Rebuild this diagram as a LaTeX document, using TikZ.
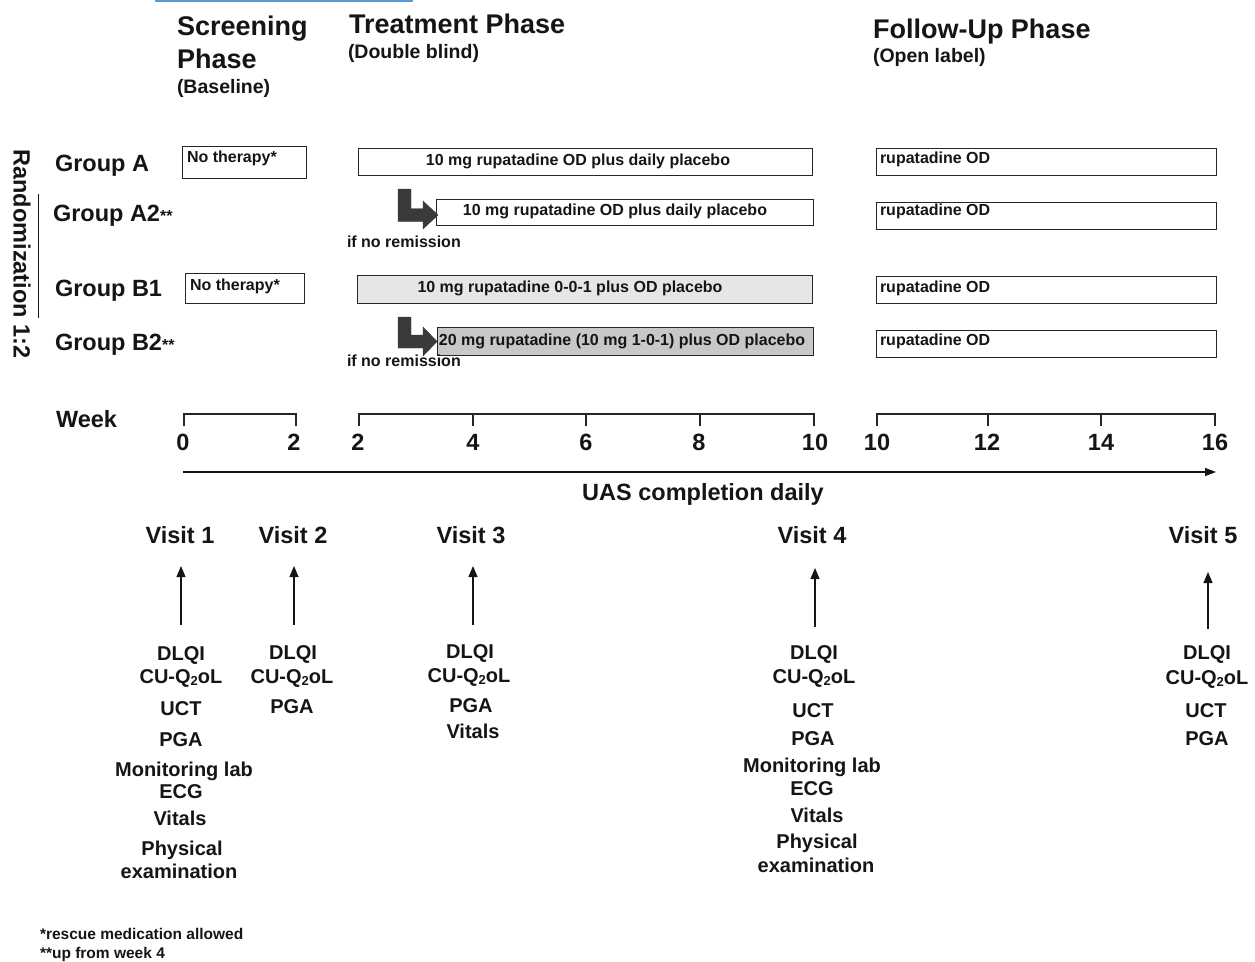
\documentclass[tikz,border=0pt]{standalone}
\usepackage{fontspec}
\setmainfont{Liberation Sans}
\usetikzlibrary{arrows.meta}
\definecolor{ink}{HTML}{151515}
\definecolor{boxline}{HTML}{262626}
\definecolor{lightfill}{HTML}{E6E6E6}
\definecolor{darkfill}{HTML}{C8C8C8}
\definecolor{bentc}{HTML}{3A3A3A}
\definecolor{topblue}{HTML}{5B9BD5}
\newcommand{\fHead}{\fontsize{27}{30}\selectfont\bfseries}
\newcommand{\fSub}{\fontsize{19.5}{22}\selectfont\bfseries}
\newcommand{\fGrp}{\fontsize{23.5}{26}\selectfont\bfseries}
\newcommand{\fBox}{\fontsize{16}{18}\selectfont\bfseries}
\newcommand{\fItem}{\fontsize{20}{22}\selectfont\bfseries}
\newcommand{\fFoot}{\fontsize{15.5}{17}\selectfont\bfseries}
\newcommand{\cuq}{CU-Q\raisebox{-0.25ex}{\fontsize{13}{13}\selectfont 2}oL}
\newcommand{\stars}{{\fontsize{16}{16}\selectfont **}}
\begin{document}
\begin{tikzpicture}[x=1pt,y=-1pt,
  txt/.style={inner sep=0pt, outer sep=0pt, text=ink},
  lefttxt/.style={txt, anchor=base west},
  ctxt/.style={txt, anchor=base},
  phbox/.style={draw=boxline, line width=1.3pt, inner sep=0pt, anchor=north west},
  bent/.style={fill=bentc, draw=bentc, line width=0.4pt},
  axisline/.style={draw=boxline, line width=1.3pt},
  varrow/.style={draw=ink, line width=1.2pt, -{Triangle[length=11pt,width=9pt]}},
  uasarrow/.style={draw=ink, line width=1.3pt, -{Triangle[length=11pt,width=8pt]}}
]
\useasboundingbox (0,0) rectangle (1255,961);
\fill[white] (0,0) rectangle (1255,961);

% top blue rule
\draw[topblue, line width=2.5pt] (155,1) -- (413,1);

% phase headings
\node[lefttxt, font=\fHead] (scrA) at (177,35) {Screening};
\node[lefttxt, font=\fHead] (scrB) at (177,68) {Phase};
\node[lefttxt, font=\fSub] (scrC) at (177,93) {(Baseline)};
\node[lefttxt, font=\fHead] (trtA) at (349,33) {Treatment Phase};
\node[lefttxt, font=\fSub] (trtB) at (348,58) {(Double blind)};
\node[lefttxt, font=\fHead] (fuA) at (873,38) {Follow-Up Phase};
\node[lefttxt, font=\fSub] (fuB) at (873,62) {(Open label)};

% randomization
\node[txt, font=\fGrp, rotate=-90, anchor=center] (rand) at (22,254) {Randomization 1:2};
\coordinate (randT) at (38,194);
\coordinate (randB) at (38,318);
\draw[ink, line width=1pt] (randT) -- (randB);

% group labels
\node[lefttxt, font=\fGrp] (gA) at (55,171.5) {Group A};
\node[lefttxt, font=\fGrp] (gA2) at (53,221.5) {Group A2\stars};
\node[lefttxt, font=\fGrp] (gB1) at (55,296.5) {Group B1};
\node[lefttxt, font=\fGrp] (gB2) at (55,350.5) {Group B2\stars};

% screening boxes
\node[phbox, minimum width=124pt, minimum height=32pt] (noA) at (182,146) {};
\node[lefttxt, font=\fBox] (noAt) at (187,162) {No therapy*};
\node[phbox, minimum width=119pt, minimum height=30pt] (noB) at (185,273) {};
\node[lefttxt, font=\fBox] (noBt) at (190,290) {No therapy*};

% treatment boxes
\node[phbox, minimum width=454pt, minimum height=27pt, fill=white] (trA) at (358,148) {};
\node[txt, font=\fBox, anchor=center] (trAt) at (578,161) {10 mg rupatadine OD plus daily placebo};
\node[phbox, minimum width=377pt, minimum height=26pt, fill=white] (trA2) at (436,199) {};
\node[txt, font=\fBox, anchor=center] (trA2t) at (615,211.5) {10 mg rupatadine OD plus daily placebo};
\node[phbox, minimum width=455pt, minimum height=27.5pt, fill=lightfill] (trB1) at (357,275) {};
\node[txt, font=\fBox, anchor=center] (trB1t) at (570,288.5) {10 mg rupatadine 0-0-1 plus OD placebo};
\node[phbox, minimum width=376pt, minimum height=28pt, fill=darkfill] (trB2) at (437,327) {};
\node[txt, font=\fBox, anchor=center] (trB2t) at (622,341) {20 mg rupatadine (10 mg 1-0-1) plus OD placebo};

% bent arrows
\path[bent] (398,189) -- (411,189) -- (411,208.5) -- (423,208.5) -- (423,201) -- (438,215) -- (423,229) -- (423,221.5) -- (398,221.5) -- cycle;
\path[bent] (398,317) -- (411,317) -- (411,335) -- (423,335) -- (423,327) -- (437,341.5) -- (423,356) -- (423,348) -- (398,348) -- cycle;
\node[lefttxt, font=\fBox] (nrA) at (347,247) {if no remission};
\node[lefttxt, font=\fBox] (nrB) at (347,366) {if no remission};

% follow-up boxes
\node[phbox, minimum width=340pt, minimum height=27pt] (fu1) at (876,148) {};
\node[lefttxt, font=\fBox] (fu1t) at (880,163) {rupatadine OD};
\node[phbox, minimum width=340pt, minimum height=27pt] (fu2) at (876,202) {};
\node[lefttxt, font=\fBox] (fu2t) at (880,215) {rupatadine OD};
\node[phbox, minimum width=340pt, minimum height=27pt] (fu3) at (876,276) {};
\node[lefttxt, font=\fBox] (fu3t) at (880,292) {rupatadine OD};
\node[phbox, minimum width=340pt, minimum height=27pt] (fu4) at (876,330) {};
\node[lefttxt, font=\fBox] (fu4t) at (880,345) {rupatadine OD};

% week axis
\node[lefttxt, font=\fGrp] (week) at (56,427) {Week};
\draw[axisline] (184,426) -- (184,414) -- (296,414) -- (296,426);
\draw[axisline] (359,426) -- (359,414) -- (814,414) -- (814,426);
\draw[axisline] (473,414) -- (473,426) (586,414) -- (586,426) (700,414) -- (700,426);
\draw[axisline] (877,426) -- (877,414) -- (1215,414) -- (1215,426);
\draw[axisline] (988,414) -- (988,426) (1101,414) -- (1101,426);
\foreach \xx/\lab/\nm in {183/0/n0, 294/2/n2a, 358/2/n2b, 473/4/n4, 586/6/n6, 699/8/n8, 815/10/n10a, 877/10/n10b, 987/12/n12, 1101/14/n14, 1215/16/n16}
  \node[ctxt, font=\fGrp] (\nm) at (\xx,450) {\lab};

\coordinate (uasS) at (183,472);
\coordinate (uasE) at (1216,472);
\draw[uasarrow] (uasS) -- (uasE);
\node[ctxt, font=\fGrp] (uas) at (703,500) {UAS completion daily};

% visits
\node[ctxt, font=\fGrp] (v1) at (180,543) {Visit 1};
\node[ctxt, font=\fGrp] (v2) at (293,543) {Visit 2};
\node[ctxt, font=\fGrp] (v3) at (471,543) {Visit 3};
\node[ctxt, font=\fGrp] (v4) at (812,543) {Visit 4};
\node[ctxt, font=\fGrp] (v5) at (1203,543) {Visit 5};

\coordinate (a1b) at (181,625); \coordinate (a1t) at (181,566);
\coordinate (a2b) at (294,625); \coordinate (a2t) at (294,566);
\coordinate (a3b) at (473,625); \coordinate (a3t) at (473,566);
\coordinate (a4b) at (815,627); \coordinate (a4t) at (815,568);
\coordinate (a5b) at (1208,629); \coordinate (a5t) at (1208,572);
\draw[varrow] (a1b) -- (a1t);
\draw[varrow] (a2b) -- (a2t);
\draw[varrow] (a3b) -- (a3t);
\draw[varrow] (a4b) -- (a4t);
\draw[varrow] (a5b) -- (a5t);

% visit 1 items
\node[ctxt, font=\fItem] (i1a) at (181,660) {DLQI};
\node[ctxt, font=\fItem] (i1b) at (181,683) {\cuq};
\node[ctxt, font=\fItem] (i1c) at (181,715) {UCT};
\node[ctxt, font=\fItem] (i1d) at (181,746) {PGA};
\node[ctxt, font=\fItem] (i1e) at (184,776) {Monitoring lab};
\node[ctxt, font=\fItem] (i1f) at (181,798) {ECG};
\node[ctxt, font=\fItem] (i1g) at (180,825) {Vitals};
\node[ctxt, font=\fItem] (i1h) at (182,855) {Physical};
\node[ctxt, font=\fItem] (i1i) at (179,878) {examination};

% visit 2 items
\node[ctxt, font=\fItem] (i2a) at (293,659) {DLQI};
\node[ctxt, font=\fItem] (i2b) at (292,683) {\cuq};
\node[ctxt, font=\fItem] (i2c) at (292,713) {PGA};

% visit 3 items
\node[ctxt, font=\fItem] (i3a) at (470,658) {DLQI};
\node[ctxt, font=\fItem] (i3b) at (469,682) {\cuq};
\node[ctxt, font=\fItem] (i3c) at (471,712) {PGA};
\node[ctxt, font=\fItem] (i3d) at (473,738) {Vitals};

% visit 4 items
\node[ctxt, font=\fItem] (i4a) at (814,659) {DLQI};
\node[ctxt, font=\fItem] (i4b) at (814,683) {\cuq};
\node[ctxt, font=\fItem] (i4c) at (813,717) {UCT};
\node[ctxt, font=\fItem] (i4d) at (813,745) {PGA};
\node[ctxt, font=\fItem] (i4e) at (812,772) {Monitoring lab};
\node[ctxt, font=\fItem] (i4f) at (812,795) {ECG};
\node[ctxt, font=\fItem] (i4g) at (817,822) {Vitals};
\node[ctxt, font=\fItem] (i4h) at (817,848) {Physical};
\node[ctxt, font=\fItem] (i4i) at (816,872) {examination};

% visit 5 items
\node[ctxt, font=\fItem] (i5a) at (1207,659) {DLQI};
\node[ctxt, font=\fItem] (i5b) at (1207,684) {\cuq};
\node[ctxt, font=\fItem] (i5c) at (1206,717) {UCT};
\node[ctxt, font=\fItem] (i5d) at (1207,745) {PGA};

% footnotes
\node[lefttxt, font=\fFoot] (fnA) at (40,939) {*rescue medication allowed};
\node[lefttxt, font=\fFoot] (fnB) at (40,958) {**up from week 4};
\end{tikzpicture}
\end{document}
